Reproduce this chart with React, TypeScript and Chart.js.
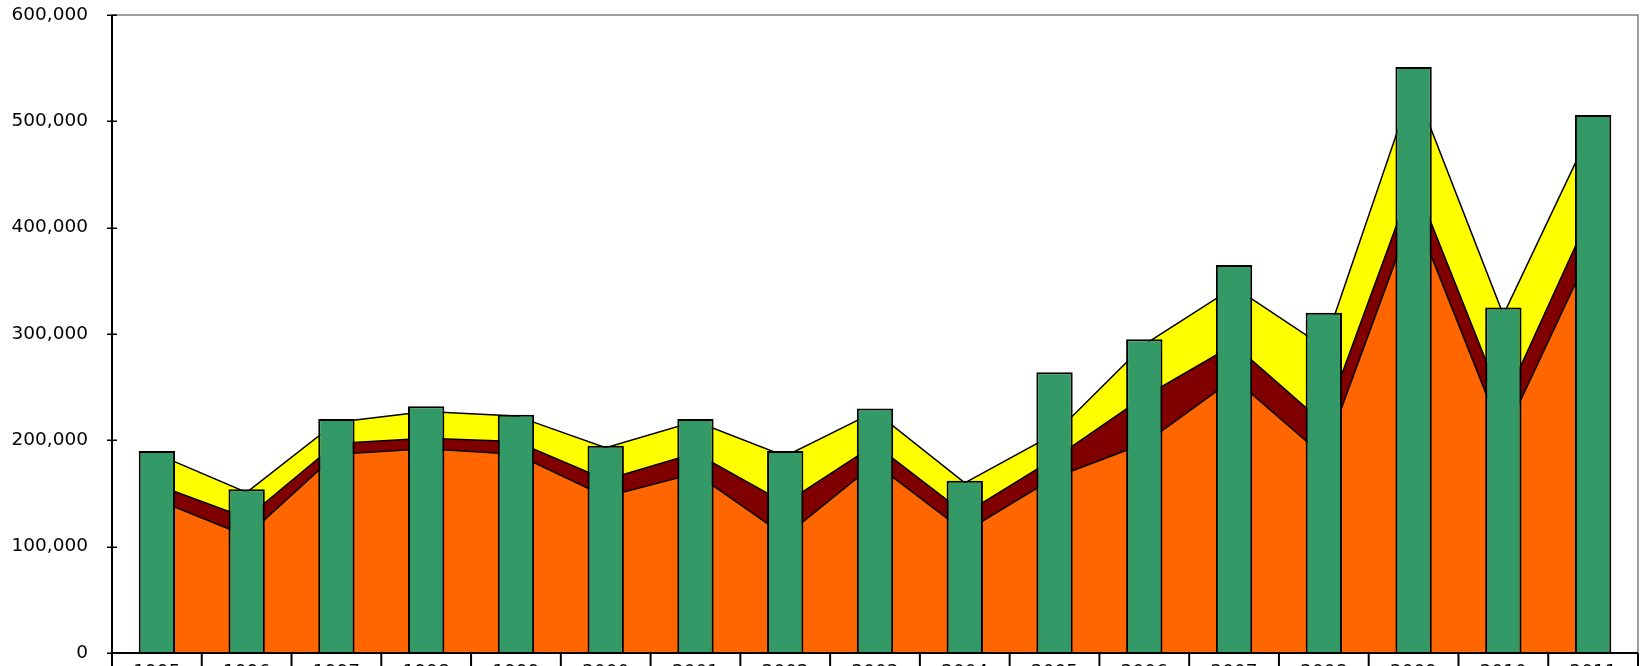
import React, { useEffect, useRef } from 'react';
import { Chart, registerables } from 'chart.js';

Chart.register(...registerables);

const years = ['1995', '1996', '1997', '1998', '1999', '2000', '2001', '2002', '2003', '2004', '2005', '2006', '2007', '2008', '2009', '2010', '2011'];
const orangeValues = [144000, 110000, 187000, 192000, 187000, 147000, 169000, 110000, 178000, 114000, 165000, 197000, 258000, 185000, 415000, 203000, 383000];
const darkRedValues = [14000, 17000, 10000, 10000, 12000, 16000, 19000, 31000, 18000, 17000, 18000, 44000, 32000, 31000, 31000, 31000, 36000];
const yellowValues = [29000, 24000, 20000, 25000, 24000, 30000, 30000, 44000, 31000, 29000, 23000, 49000, 54000, 72000, 89000, 84000, 77000];
const barValues = [190000, 154000, 220000, 232000, 224000, 195000, 220000, 190000, 230000, 162000, 264000, 295000, 365000, 320000, 551000, 325000, 506000];
const yMin = 0;
const yMax = 600000;
const yStep = 100000;

const FONT = "'DejaVu Sans', 'Liberation Sans', Arial, sans-serif";

const decorPlugin = {
  id: 'decor',
  afterDraw(chart: any) {
    const { ctx, chartArea: a, scales } = chart;
    const xs = scales.x;
    const ys = scales.y;
    ctx.save();
    // gray top and right frame
    ctx.strokeStyle = '#808080';
    ctx.lineWidth = 1.5;
    ctx.beginPath();
    ctx.moveTo(a.left, a.top);
    ctx.lineTo(a.right, a.top);
    ctx.lineTo(a.right, a.bottom);
    ctx.stroke();
    // black axes
    ctx.strokeStyle = '#000';
    ctx.lineWidth = 2;
    ctx.beginPath();
    ctx.moveTo(a.left, a.top);
    ctx.lineTo(a.left, a.bottom);
    ctx.lineTo(a.right, a.bottom);
    ctx.stroke();
    // y tick crosses
    ctx.lineWidth = 1.5;
    ys.ticks.forEach((t: any) => {
      const py = Math.round(ys.getPixelForValue(t.value)) + 0.25;
      ctx.beginPath();
      ctx.moveTo(a.left - 5, py);
      ctx.lineTo(a.left + 5, py);
      ctx.stroke();
    });
    // category separators below the axis
    ctx.lineWidth = 2;
    for (let k = 0; k <= years.length; k++) {
      const px = xs.getPixelForValue(k - 0.5);
      ctx.beginPath();
      ctx.moveTo(px, a.bottom);
      ctx.lineTo(px, chart.height);
      ctx.stroke();
    }
    ctx.restore();
  },
};

export default function App() {
  const canvasRef = useRef<HTMLCanvasElement | null>(null);

  useEffect(() => {
    const canvas = canvasRef.current;
    if (!canvas) return;
    const chart = new Chart(canvas, {
      type: 'bar',
      data: {
        labels: years,
        datasets: [
          {
            type: 'line',
            label: 'orange',
            data: orangeValues,
            stack: 'area',
            backgroundColor: '#FF6600',
            borderColor: '#000',
            borderWidth: 1.5,
            pointRadius: 0,
            tension: 0,
            fill: 'origin',
            order: 1,
          } as any,
          {
            type: 'line',
            label: 'darkred',
            data: darkRedValues,
            stack: 'area',
            backgroundColor: '#800000',
            borderColor: '#000',
            borderWidth: 1.5,
            pointRadius: 0,
            tension: 0,
            fill: '-1',
            order: 1,
          } as any,
          {
            type: 'line',
            label: 'yellow',
            data: yellowValues,
            stack: 'area',
            backgroundColor: '#FFFF00',
            borderColor: '#000',
            borderWidth: 1.5,
            pointRadius: 0,
            tension: 0,
            fill: '-1',
            order: 1,
          } as any,
          {
            type: 'bar',
            label: 'bars',
            data: barValues,
            stack: 'bar',
            backgroundColor: '#339966',
            borderColor: '#000',
            borderWidth: 2,
            borderSkipped: 'bottom',
            categoryPercentage: 1,
            barPercentage: 0.405,
            order: 0,
          } as any,
        ],
      },
      options: {
        responsive: false,
        animation: false,
        devicePixelRatio: 1,
        layout: { padding: { top: 15, right: 5, left: 0, bottom: 0 } },
        plugins: {
          legend: { display: false },
          tooltip: { enabled: false },
          title: { display: false },
          filler: { drawTime: 'beforeDatasetsDraw' },
        } as any,
        scales: {
          x: {
            type: 'category',
            offset: true,
            grid: { display: false, drawTicks: false },
            border: { display: false },
            ticks: {
              color: '#000',
              font: { family: FONT, size: 18.5 },
              padding: 8,
              maxRotation: 0,
              autoSkip: false,
            },
            afterFit(scale: any) {
              scale.height = 47;
              scale.paddingLeft = 0;
              scale.paddingRight = 0;
            },
          },
          y: {
            stacked: true,
            min: yMin,
            max: yMax,
            grid: { display: false, drawTicks: false },
            border: { display: false },
            ticks: {
              stepSize: yStep,
              color: '#000',
              font: { family: FONT, size: 18.5 },
              padding: 24,
              callback: (v: any) => Number(v).toLocaleString('en-US'),
            },
            afterFit(scale: any) {
              scale.width = 112;
              scale.paddingTop = 0;
              scale.paddingBottom = 0;
            },
          },
        },
      } as any,
      plugins: [decorPlugin],
    });
    return () => chart.destroy();
  }, []);

  return (
    <div style={{ position: 'fixed', left: 0, top: 0, width: 1643, height: 666, overflow: 'hidden', background: '#fff' }}>
      <canvas ref={canvasRef} width={1643} height={700} style={{ display: 'block' }} />
    </div>
  );
}
